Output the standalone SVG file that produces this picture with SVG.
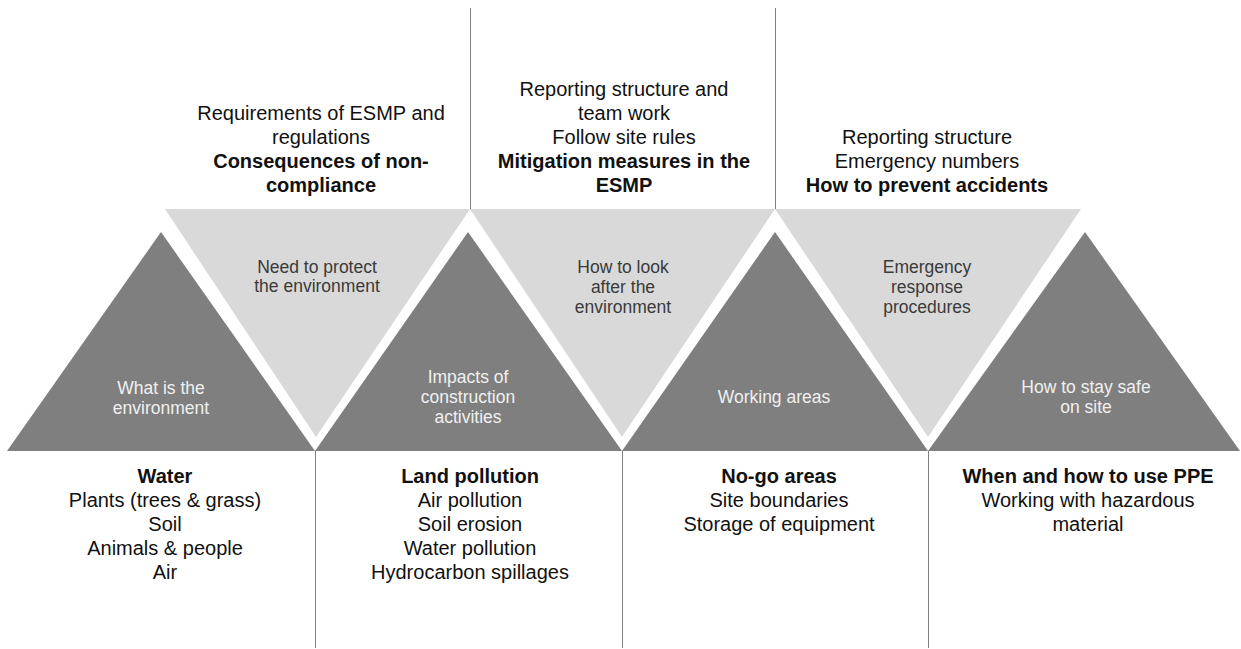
<svg xmlns="http://www.w3.org/2000/svg" width="1241" height="649" viewBox="0 0 1241 649">
<style>
  text { font-family: "Liberation Sans", Arial, sans-serif; text-anchor: middle; }
  .dark { fill: #7f7f7f; }
  .light { fill: #d9d9d9; }
  .dt { font-size: 17.5px; fill: #f0f0f0; }
  .lt { font-size: 17.5px; fill: #3a3a3a; }
  .body { font-size: 20px; fill: #111; }
  .b { font-weight: bold; }
  .sep { stroke: #808080; stroke-width: 1; fill: none; }
</style>
<rect width="1241" height="649" fill="#ffffff"/>

<g id="connectors">
  <line class="sep" x1="470.5" y1="8" x2="470.5" y2="209"/>
  <line class="sep" x1="775.5" y1="8" x2="775.5" y2="209"/>
  <line class="sep" x1="315.5" y1="451" x2="315.5" y2="648"/>
  <line class="sep" x1="622.5" y1="451" x2="622.5" y2="648"/>
  <line class="sep" x1="928.5" y1="451" x2="928.5" y2="648"/>
</g>

<g id="light1">
  <polygon class="light" points="165,209 470,209 316,437"/>
  <text class="lt" x="317" y="273">Need to protect</text>
  <text class="lt" x="317" y="292">the environment</text>
</g>
<g id="light2">
  <polygon class="light" points="470,209 775,209 622,437"/>
  <text class="lt" x="623" y="273">How to look</text>
  <text class="lt" x="623" y="293">after the</text>
  <text class="lt" x="623" y="313">environment</text>
</g>
<g id="light3">
  <polygon class="light" points="775,209 1081,209 928,437"/>
  <text class="lt" x="927" y="273">Emergency</text>
  <text class="lt" x="927" y="293">response</text>
  <text class="lt" x="927" y="313">procedures</text>
</g>

<g id="dark1">
  <polygon class="dark" points="161,232 315,451 7,451"/>
  <text class="dt" x="161" y="394">What is the</text>
  <text class="dt" x="161" y="414">environment</text>
</g>
<g id="dark2">
  <polygon class="dark" points="468,232 622,451 315,451"/>
  <text class="dt" x="468" y="383">Impacts of</text>
  <text class="dt" x="468" y="403">construction</text>
  <text class="dt" x="468" y="423">activities</text>
</g>
<g id="dark3">
  <polygon class="dark" points="775,232 928,451 622,451"/>
  <text class="dt" x="774" y="403">Working areas</text>
</g>
<g id="dark4">
  <polygon class="dark" points="1085,232 1240,451 928,451"/>
  <text class="dt" x="1086" y="393">How to stay safe</text>
  <text class="dt" x="1086" y="413">on site</text>
</g>

<g id="top1">
  <text class="body" x="321" y="120">Requirements of ESMP and</text>
  <text class="body" x="321" y="144">regulations</text>
  <text class="body b" x="321" y="168">Consequences of non-</text>
  <text class="body b" x="321" y="192">compliance</text>
</g>
<g id="top2">
  <text class="body" x="624" y="96">Reporting structure and</text>
  <text class="body" x="624" y="120">team work</text>
  <text class="body" x="624" y="144">Follow site rules</text>
  <text class="body b" x="624" y="168">Mitigation measures in the</text>
  <text class="body b" x="624" y="192">ESMP</text>
</g>
<g id="top3">
  <text class="body" x="927" y="144">Reporting structure</text>
  <text class="body" x="927" y="168">Emergency numbers</text>
  <text class="body b" x="927" y="192">How to prevent accidents</text>
</g>

<g id="bottom1">
  <text class="body b" x="165" y="483">Water</text>
  <text class="body" x="165" y="507">Plants (trees &amp; grass)</text>
  <text class="body" x="165" y="531">Soil</text>
  <text class="body" x="165" y="555">Animals &amp; people</text>
  <text class="body" x="165" y="579">Air</text>
</g>
<g id="bottom2">
  <text class="body b" x="470" y="483">Land pollution</text>
  <text class="body" x="470" y="507">Air pollution</text>
  <text class="body" x="470" y="531">Soil erosion</text>
  <text class="body" x="470" y="555">Water pollution</text>
  <text class="body" x="470" y="579">Hydrocarbon spillages</text>
</g>
<g id="bottom3">
  <text class="body b" x="779" y="483">No-go areas</text>
  <text class="body" x="779" y="507">Site boundaries</text>
  <text class="body" x="779" y="531">Storage of equipment</text>
</g>
<g id="bottom4">
  <text class="body b" x="1088" y="483">When and how to use PPE</text>
  <text class="body" x="1088" y="507">Working with hazardous</text>
  <text class="body" x="1088" y="531">material</text>
</g>
</svg>
